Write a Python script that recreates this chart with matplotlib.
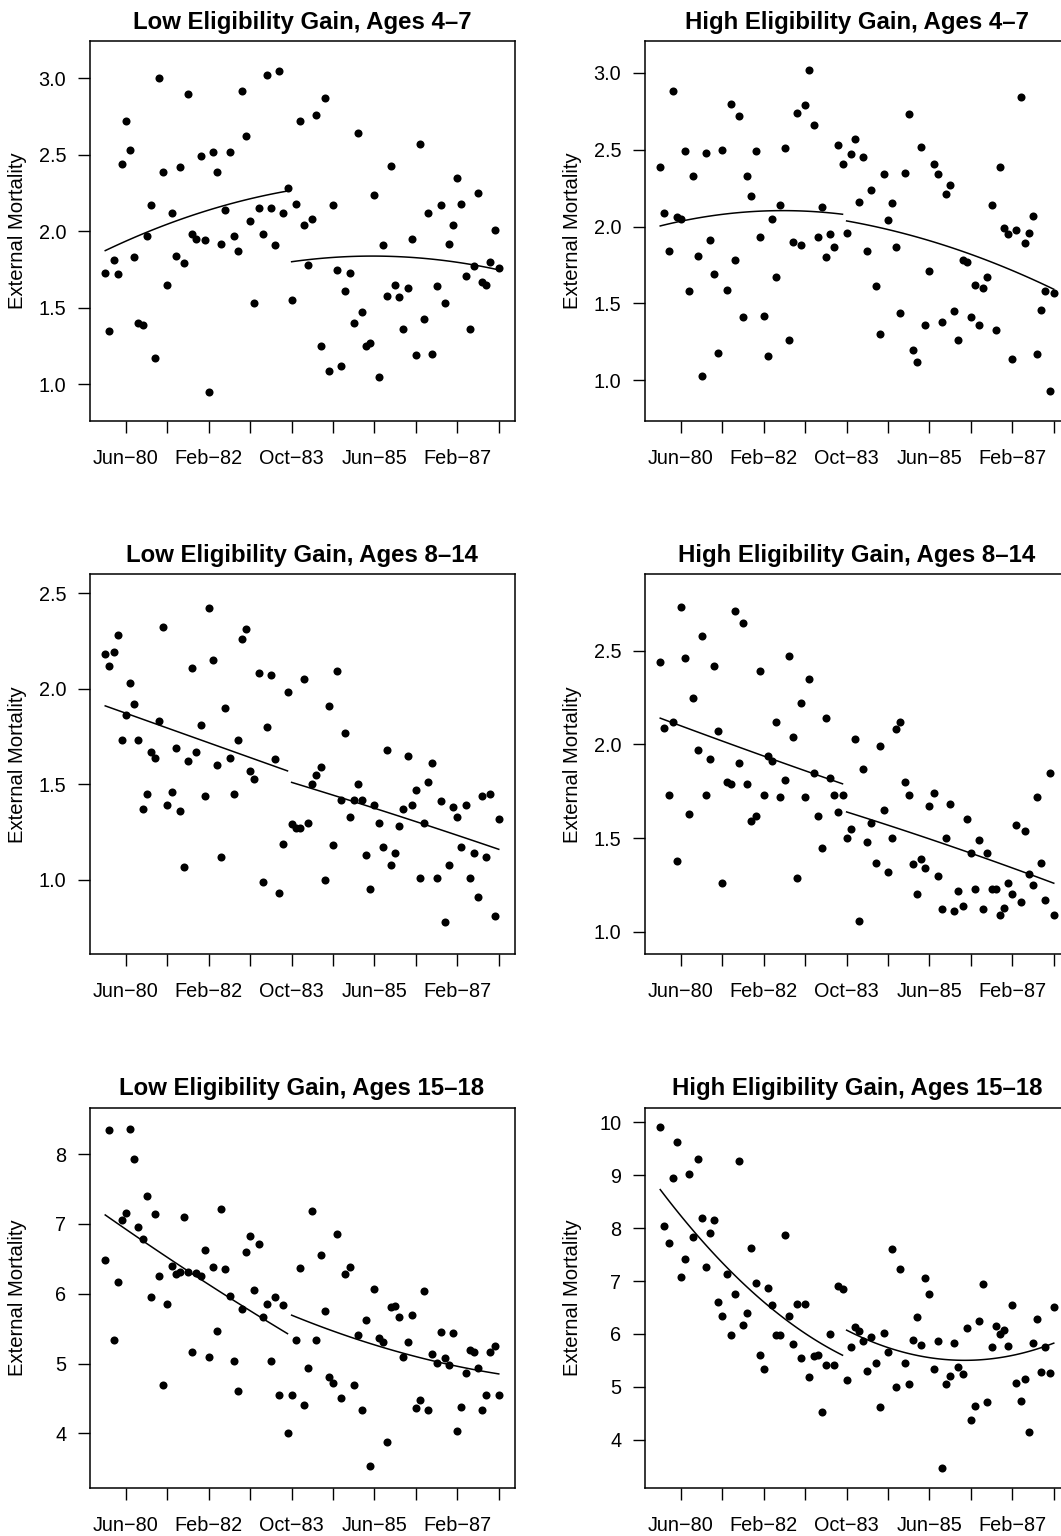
import matplotlib
matplotlib.use("Agg")
import matplotlib.pyplot as plt
import numpy as np

plt.rcParams['font.family'] = ['Liberation Sans', 'DejaVu Sans']

# month index, 0 = Jan-80 ... 95 = Dec-87
months = np.arange(96)

tick_pos = [5, 15, 25, 35, 45, 55, 65, 75, 85, 95]
tick_lab = ['Jun\u221280', '', 'Feb\u221282', '', 'Oct\u221283', '',
            'Jun\u221285', '', 'Feb\u221287', '']

titles = ['Low Eligibility Gain, Ages 4\u20137', 'High Eligibility Gain, Ages 4\u20137',
          'Low Eligibility Gain, Ages 8\u201314', 'High Eligibility Gain, Ages 8\u201314',
          'Low Eligibility Gain, Ages 15\u201318', 'High Eligibility Gain, Ages 15\u201318']

low_4_7 = [1.73, 1.35, 1.81, 1.72, 2.44, 2.72, 2.53, 1.83, 1.40, 1.39,
           1.97, 2.17, 1.17, 3.00, 2.39, 1.65, 2.12, 1.84, 2.42, 1.79,
           2.90, 1.98, 1.95, 2.49, 1.94, 0.95, 2.52, 2.39, 1.92, 2.14,
           2.52, 1.97, 1.87, 2.92, 2.62, 2.07, 1.53, 2.15, 1.98, 3.02,
           2.15, 1.91, 3.05, 2.12, 2.28, 1.55, 2.18, 2.72, 2.04, 1.78,
           2.08, 2.76, 1.25, 2.87, 1.09, 2.17, 1.75, 1.12, 1.61, 1.73,
           1.40, 2.64, 1.47, 1.25, 1.27, 2.24, 1.05, 1.91, 1.58, 2.43,
           1.65, 1.57, 1.36, 1.63, 1.95, 1.19, 2.57, 1.43, 2.12, 1.20,
           1.64, 2.17, 1.53, 1.92, 2.04, 2.35, 2.18, 1.71, 1.36, 1.77,
           2.25, 1.67, 1.65, 1.80, 2.01, 1.76]

high_4_7 = [2.39, 2.09, 1.84, 2.88, 2.06, 2.05, 2.49, 1.58, 2.33, 1.81,
            1.03, 2.48, 1.91, 1.69, 1.18, 2.50, 1.59, 2.80, 1.78, 2.72,
            1.41, 2.33, 2.20, 2.49, 1.93, 1.42, 1.16, 2.05, 1.67, 2.14,
            2.51, 1.26, 1.90, 2.74, 1.88, 2.79, 3.02, 2.66, 1.93, 2.13,
            1.80, 1.95, 1.87, 2.53, 2.41, 1.96, 2.47, 2.57, 2.16, 2.45,
            1.84, 2.24, 1.61, 1.30, 2.34, 2.04, 2.15, 1.87, 1.44, 2.35,
            2.73, 1.20, 1.12, 2.52, 1.36, 1.71, 2.41, 2.34, 1.38, 2.21,
            2.27, 1.45, 1.26, 1.78, 1.77, 1.41, 1.62, 1.36, 1.60, 1.67,
            2.14, 1.33, 2.39, 1.99, 1.95, 1.14, 1.98, 2.84, 1.89, 1.96,
            2.07, 1.17, 1.46, 1.58, 0.93, 1.57]

low_8_14 = [2.18, 2.12, 2.19, 2.28, 1.73, 1.86, 2.03, 1.92, 1.73, 1.37,
            1.45, 1.67, 1.64, 1.83, 2.32, 1.39, 1.46, 1.69, 1.36, 1.07,
            1.62, 2.11, 1.67, 1.81, 1.44, 2.42, 2.15, 1.60, 1.12, 1.90,
            1.64, 1.45, 1.73, 2.26, 2.31, 1.57, 1.53, 2.08, 0.99, 1.80,
            2.07, 1.63, 0.93, 1.19, 1.98, 1.29, 1.27, 1.27, 2.05, 1.30,
            1.50, 1.55, 1.59, 1.00, 1.91, 1.18, 2.09, 1.42, 1.77, 1.33,
            1.42, 1.50, 1.42, 1.13, 0.95, 1.39, 1.30, 1.17, 1.68, 1.08,
            1.14, 1.28, 1.37, 1.65, 1.39, 1.47, 1.01, 1.30, 1.51, 1.61,
            1.01, 1.41, 0.78, 1.08, 1.38, 1.33, 1.17, 1.39, 1.01, 1.14,
            0.91, 1.44, 1.12, 1.45, 0.81, 1.32]

high_8_14 = [2.44, 2.09, 1.73, 2.12, 1.38, 2.73, 2.46, 1.63, 2.25, 1.97,
             2.58, 1.73, 1.92, 2.42, 2.07, 1.26, 1.80, 1.79, 2.71, 1.90,
             2.65, 1.79, 1.59, 1.62, 2.39, 1.73, 1.94, 1.91, 2.12, 1.72,
             1.81, 2.47, 2.04, 1.29, 2.22, 1.72, 2.35, 1.85, 1.62, 1.45,
             2.14, 1.82, 1.73, 1.64, 1.73, 1.50, 1.55, 2.03, 1.06, 1.87,
             1.48, 1.58, 1.37, 1.99, 1.65, 1.32, 1.50, 2.08, 2.12, 1.80,
             1.73, 1.36, 1.20, 1.39, 1.34, 1.67, 1.74, 1.30, 1.12, 1.50,
             1.68, 1.11, 1.22, 1.14, 1.60, 1.42, 1.23, 1.49, 1.12, 1.42,
             1.23, 1.23, 1.09, 1.13, 1.26, 1.20, 1.57, 1.16, 1.54, 1.31,
             1.25, 1.72, 1.37, 1.17, 1.85, 1.09]

low_15_18 = [6.48, 8.35, 5.34, 6.17, 7.05, 7.16, 8.36, 7.93, 6.96, 6.79,
             7.40, 5.95, 7.14, 6.25, 4.69, 5.85, 6.39, 6.28, 6.31, 7.10,
             6.31, 5.17, 6.30, 6.25, 6.62, 5.10, 6.38, 5.47, 7.22, 6.35,
             5.97, 5.03, 4.60, 5.78, 6.59, 6.82, 6.05, 6.71, 5.67, 5.85,
             5.04, 5.95, 4.55, 5.84, 4.00, 4.55, 5.33, 6.37, 4.40, 4.94,
             7.18, 5.33, 6.56, 5.75, 4.81, 4.72, 6.85, 4.51, 6.28, 6.38,
             4.69, 5.41, 4.33, 5.63, 3.53, 6.07, 5.36, 5.31, 3.88, 5.81,
             5.83, 5.67, 5.10, 5.31, 5.70, 4.36, 4.48, 6.04, 4.34, 5.13,
             5.01, 5.45, 5.08, 4.98, 5.44, 4.04, 4.38, 4.87, 5.20, 5.16,
             4.93, 4.34, 4.55, 5.16, 5.25, 4.55]

high_15_18 = [9.92, 8.04, 7.71, 8.94, 9.63, 7.08, 7.41, 9.03, 7.84, 9.31,
              8.19, 7.26, 7.91, 8.15, 6.61, 6.34, 7.13, 5.98, 6.76, 9.27,
              6.16, 6.39, 7.62, 6.97, 5.60, 5.33, 6.87, 6.54, 5.98, 5.98,
              7.87, 6.34, 5.80, 6.57, 5.55, 6.57, 5.19, 5.58, 5.60, 4.52,
              5.42, 6.00, 5.41, 6.90, 6.84, 5.12, 5.76, 6.13, 6.06, 5.87,
              5.29, 5.94, 5.45, 4.61, 6.02, 5.66, 7.60, 5.00, 7.22, 5.45,
              5.05, 5.88, 6.32, 5.79, 7.05, 6.76, 5.34, 5.87, 3.46, 5.06,
              5.20, 5.83, 5.38, 5.24, 6.11, 4.37, 4.64, 6.25, 6.95, 4.72,
              5.75, 6.15, 5.99, 6.08, 5.77, 6.54, 5.08, 4.74, 5.14, 4.14,
              5.83, 6.28, 5.27, 5.75, 5.26, 6.51]

# trend curves: (months, values), before and after Oct-83
trend_low_4_7 = [([0, 10, 22, 34, 44], [1.88, 1.98, 2.12, 2.21, 2.26]),
                 ([45, 55, 64, 78, 86, 95], [1.80, 1.83, 1.84, 1.82, 1.79, 1.75])]
trend_high_4_7 = [([0, 5, 15, 25, 30, 37, 44], [2.00, 2.04, 2.08, 2.10, 2.10, 2.10, 2.08]),
                  ([45, 55, 65, 75, 85, 95], [2.03, 1.99, 1.91, 1.82, 1.70, 1.60])]
trend_low_8_14 = [([0, 22, 44], [1.91, 1.74, 1.57]),
                  ([45, 70, 95], [1.51, 1.34, 1.16])]
trend_high_8_14 = [([0, 26, 44], [2.14, 1.93, 1.79]),
                   ([45, 75, 95], [1.64, 1.42, 1.26])]
trend_low_15_18 = [([0, 11, 22, 33, 44], [7.11, 6.72, 6.23, 5.81, 5.44]),
                   ([45, 58, 70, 83, 95], [5.69, 5.41, 5.17, 4.99, 4.85])]
trend_high_15_18 = [([0, 8, 16, 27, 37, 44], [8.75, 7.96, 7.17, 6.54, 5.94, 5.56]),
                    ([45, 55, 65, 74, 85, 95], [6.08, 5.72, 5.56, 5.50, 5.60, 5.82])]

series = [low_4_7, high_4_7, low_8_14, high_8_14, low_15_18, high_15_18]
trends = [trend_low_4_7, trend_high_4_7, trend_low_8_14, trend_high_8_14,
          trend_low_15_18, trend_high_15_18]
y_limits = [(0.76, 3.244), (0.735, 3.207), (0.611, 2.598),
            (0.881, 2.907), (3.221, 8.664), (3.091, 10.278)]
y_ticks = [[1.0, 1.5, 2.0, 2.5, 3.0], [1.0, 1.5, 2.0, 2.5, 3.0],
           [1.0, 1.5, 2.0, 2.5], [1.0, 1.5, 2.0, 2.5],
           [4, 5, 6, 7, 8], [4, 5, 6, 7, 8, 9, 10]]

W, H = 1061, 1536
fig = plt.figure(figsize=(W / 100, H / 100), dpi=100)

box_w, box_h = 425, 380
col_left = [89.5, 644.5]
row_top = [41, 574.3, 1107.7]

for k in range(6):
    r, c = divmod(k, 2)
    left = col_left[c]
    top = row_top[r]
    ax = fig.add_axes([left / W, (H - top - box_h) / H, box_w / W, box_h / H])

    ax.plot(months, series[k], 'o', color='black', markersize=5.8, markeredgewidth=0)
    # smooth quadratic through the read trend points
    for cx, cy in trends[k]:
        coef = np.polyfit(cx, cy, 2)
        xf = np.linspace(cx[0], cx[-1], 100)
        ax.plot(xf, np.polyval(coef, xf), color='black', lw=1.1)

    ax.set_xlim(-3.8, 98.8)
    ax.set_ylim(*y_limits[k])
    ax.set_xticks(tick_pos)
    ax.set_xticklabels(tick_lab)
    ax.set_yticks(y_ticks[k])
    if k < 4:
        ax.set_yticklabels(['%.1f' % v for v in y_ticks[k]])
    else:
        ax.set_yticklabels(['%d' % v for v in y_ticks[k]])
    ax.tick_params(direction='out', length=8.6, width=1.0, labelsize=14.3)
    ax.tick_params(axis='x', pad=11.5)
    ax.tick_params(axis='y', pad=8.2)
    for sp in ax.spines.values():
        sp.set_linewidth(1.1)
    ax.set_title(titles[k], fontsize=17.3, fontweight='bold', pad=9)

    fig.text((left - 71.5) / W, (H - top - box_h / 2) / H, 'External Mortality',
             rotation=90, ha='center', va='center', fontsize=14.6)

fig.savefig('out.png', dpi=100)
